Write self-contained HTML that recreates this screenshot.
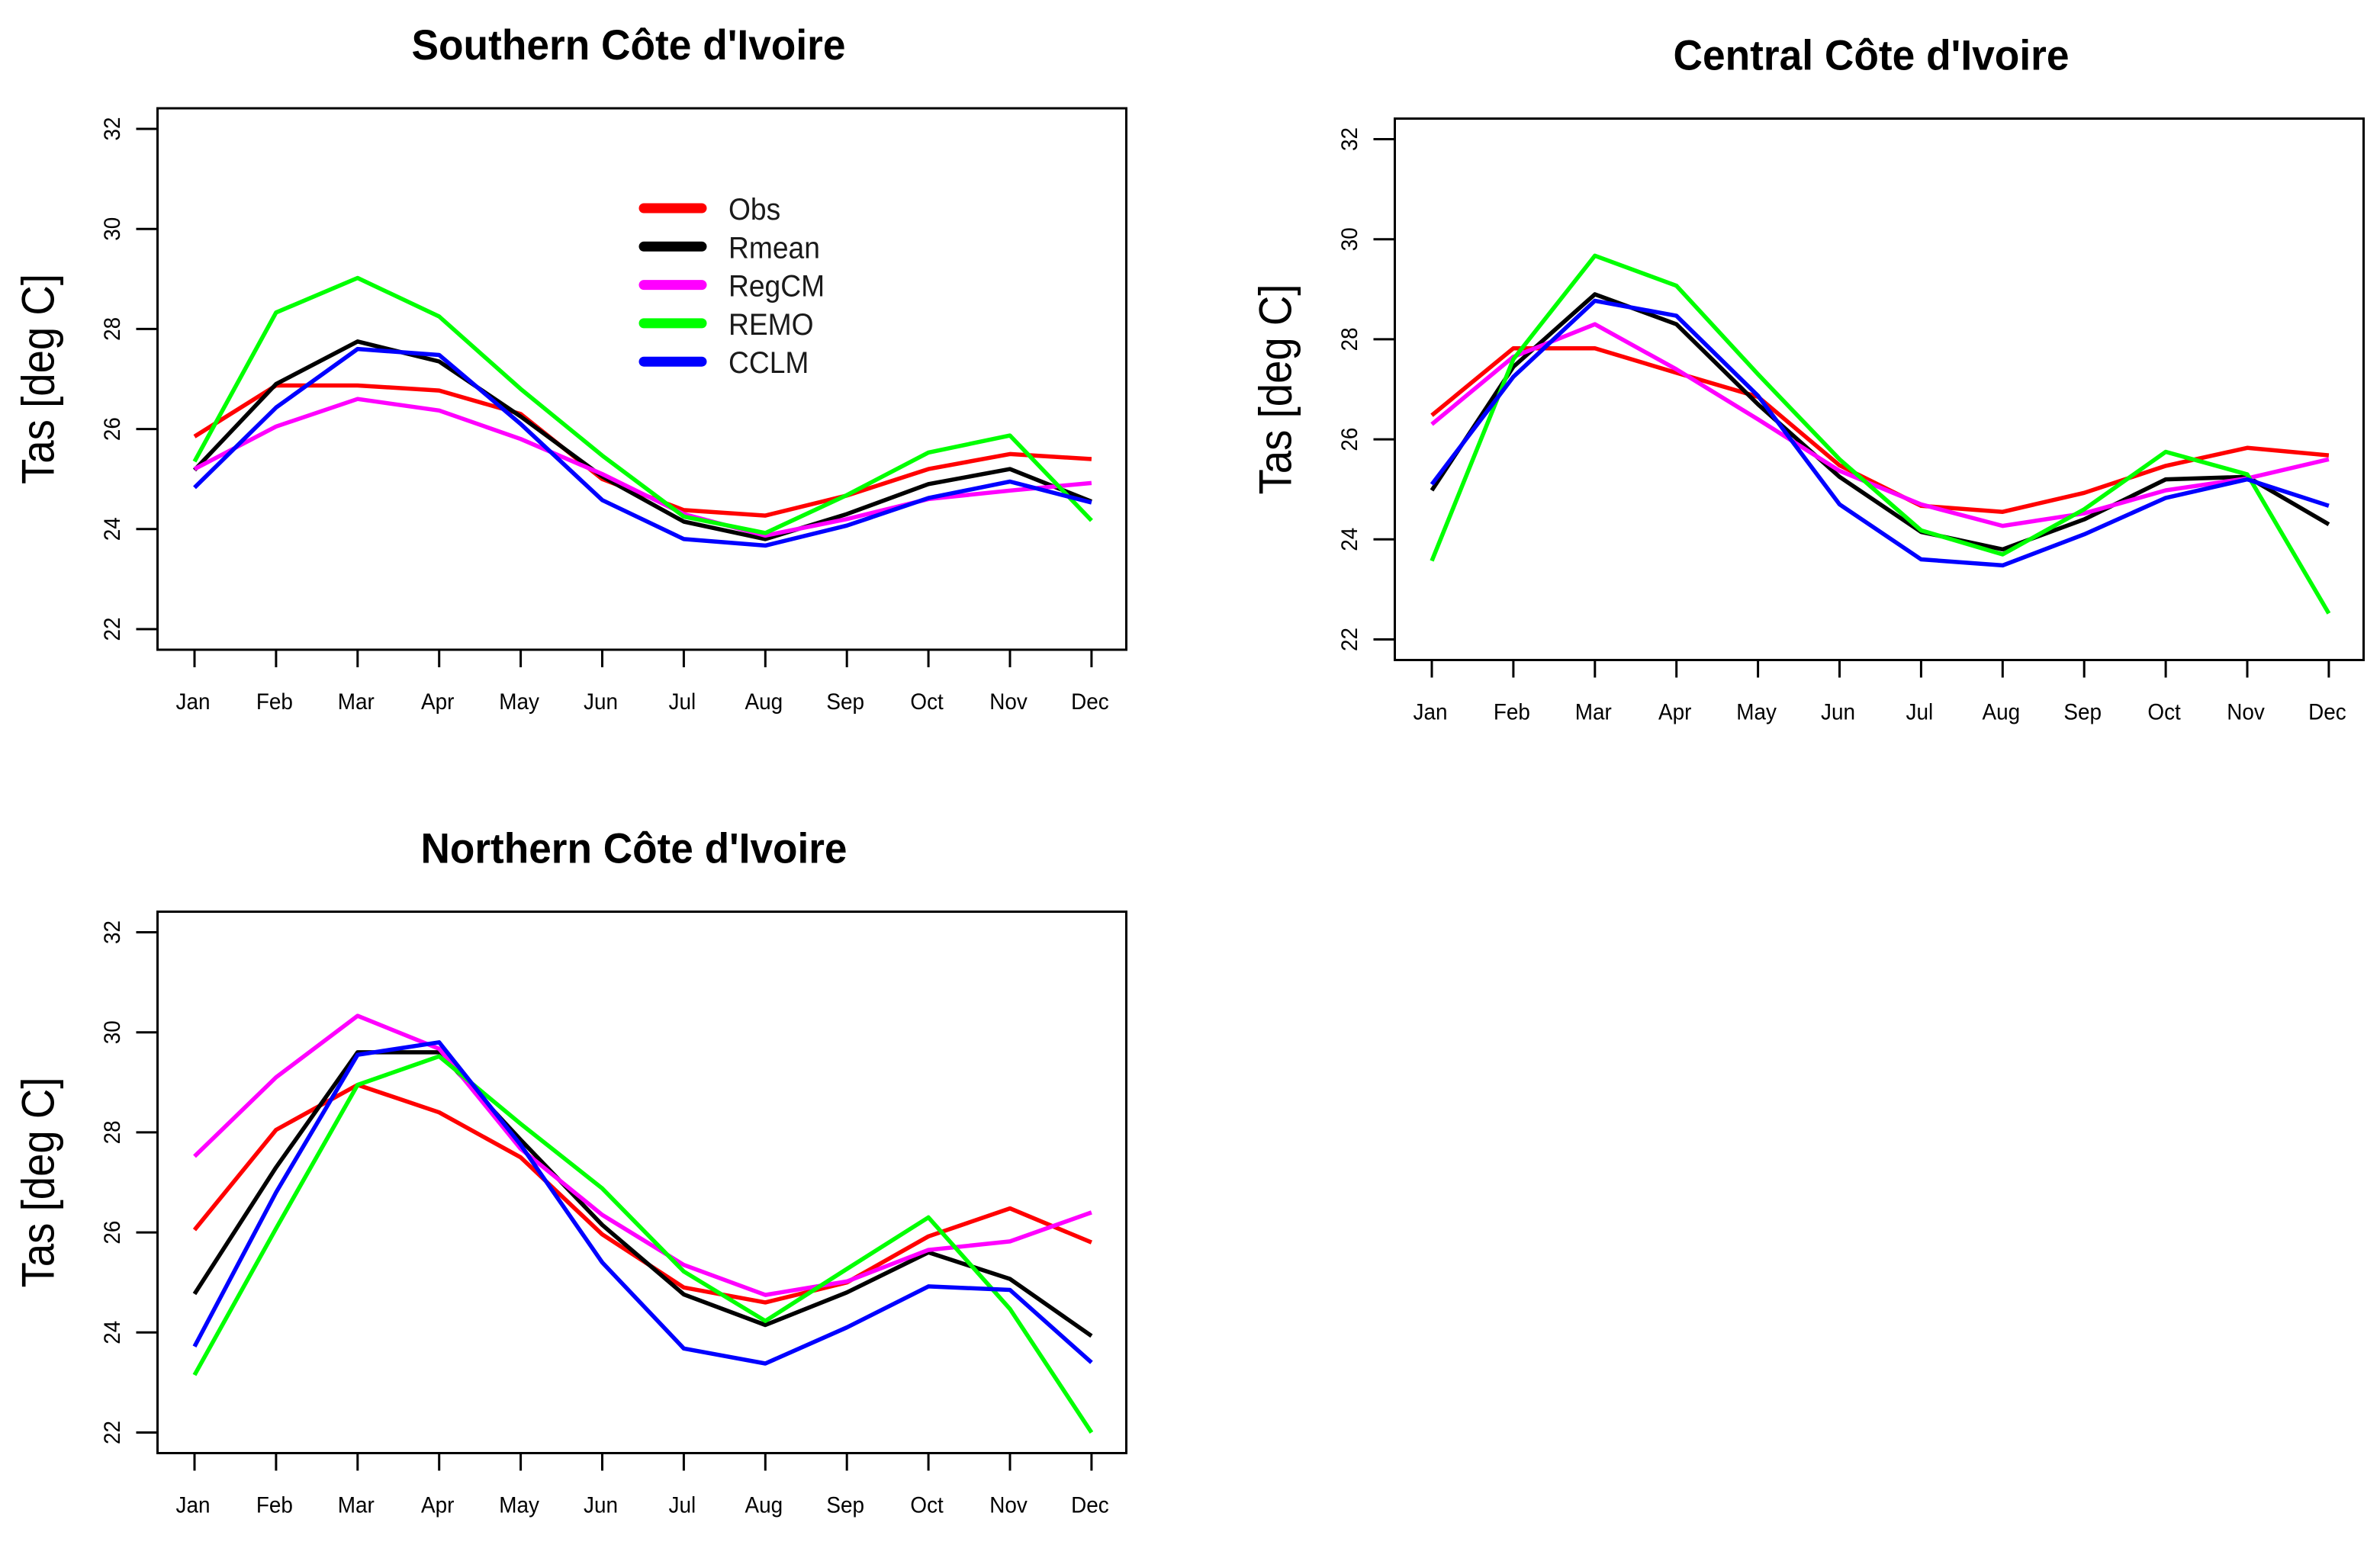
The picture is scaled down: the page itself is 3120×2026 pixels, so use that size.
<!DOCTYPE html>
<html lang="en">
<head>
<meta charset="utf-8">
<title>Tas by region, Côte d'Ivoire</title>
<style>
html,body{margin:0;padding:0;background:#fff;}
svg{display:block;font-family:"Liberation Sans",Arial,sans-serif;}
</style>
</head>
<body>
<svg id="figure" xmlns="http://www.w3.org/2000/svg" width="3120" height="2026" viewBox="0 0 3120 2026">
<rect x="0" y="0" width="3120" height="2026" fill="#ffffff"/>
</svg>
<script>
const months = ['Jan','Feb','Mar','Apr','May','Jun','Jul','Aug','Sep','Oct','Nov','Dec'];
const yTickValues = [22,24,26,28,30,32];
const seriesNames = ['Obs','Rmean','RegCM','REMO','CCLM'];
const seriesColors = ['#ff0000','#000000','#ff00ff','#00ff00','#0000ff'];

const southObs   = [25.85,26.87,26.87,26.77,26.30,25.00,24.38,24.27,24.67,25.20,25.50,25.40];
const southRmean = [25.18,26.90,27.75,27.35,26.25,25.05,24.15,23.80,24.30,24.90,25.20,24.55];
const southRegcm = [25.20,26.05,26.60,26.37,25.80,25.10,24.30,23.87,24.20,24.60,24.77,24.92];
const southRemo  = [25.35,28.33,29.02,28.25,26.80,25.47,24.25,23.92,24.68,25.53,25.87,24.17];
const southCclm  = [24.83,26.43,27.60,27.48,26.10,24.58,23.80,23.67,24.07,24.62,24.95,24.53];

const centralObs   = [26.48,27.82,27.82,27.33,26.85,25.48,24.67,24.55,24.93,25.47,25.83,25.68];
const centralRmean = [24.98,27.45,28.90,28.30,26.70,25.25,24.15,23.80,24.40,25.20,25.25,24.30];
const centralRegcm = [26.30,27.65,28.30,27.40,26.40,25.37,24.70,24.27,24.52,24.98,25.22,25.60];
const centralRemo  = [23.57,27.60,29.67,29.07,27.30,25.60,24.18,23.70,24.60,25.75,25.30,22.52];
const centralCclm  = [25.10,27.25,28.77,28.47,26.87,24.70,23.60,23.48,24.10,24.83,25.20,24.67];

const northObs   = [26.05,28.05,28.95,28.40,27.50,25.96,24.90,24.60,25.00,25.92,26.48,25.80];
const northRmean = [24.77,27.30,29.60,29.60,27.85,26.15,24.76,24.15,24.80,25.60,25.07,23.93];
const northRegcm = [27.52,29.10,30.33,29.67,27.67,26.35,25.35,24.75,25.02,25.65,25.82,26.40];
const northRemo  = [23.15,26.08,28.95,29.52,28.17,26.88,25.22,24.23,25.27,26.30,24.47,22.00];
const northCclm  = [23.72,26.80,29.55,29.80,27.75,25.40,23.68,23.38,24.10,24.92,24.85,23.40];

const svgNS = 'http://www.w3.org/2000/svg';
const figure = document.getElementById('figure');

function make(parent, tag, attrs, text) {
  const el = document.createElementNS(svgNS, tag);
  for (const k in attrs) el.setAttribute(k, attrs[k]);
  if (text !== undefined) el.textContent = text;
  parent.appendChild(el);
  return el;
}

function condense(el) {
  el.setAttribute('textLength', (el.getComputedTextLength() * 0.93).toFixed(1));
  el.setAttribute('lengthAdjust', 'spacingAndGlyphs');
}

function drawPanel(key, title, titleCenter, titleWidth, left, top, seriesValues, withLegend) {
  const plotWidth = 1270, plotHeight = 710;
  const right = left + plotWidth, bottom = top + plotHeight;
  const firstTickX = left + 48.5, monthStep = 106.9;
  const y22 = top + 683, pxPerDegree = 65.6;
  const xScale = function (i) { return firstTickX + i * monthStep; };
  const yScale = function (v) { return y22 - (v - 22) * pxPerDegree; };
  const centerY = top + plotHeight / 2;

  const g = make(figure, 'g', {});
  
  

  const titleEl = make(g, 'text', {
    x: titleCenter, y: top - 64, 'text-anchor': 'middle',
    'font-size': 56, 'font-weight': 'bold', fill: '#000',
    textLength: titleWidth, lengthAdjust: 'spacingAndGlyphs'
  }, title);
  
  

  const yTitleX = left - 136;
  const yTitle = make(g, 'text', {
    x: yTitleX, y: centerY, transform: 'rotate(-90 ' + yTitleX + ' ' + centerY + ')',
    'text-anchor': 'middle', 'font-size': 60, fill: '#000',
    textLength: 276, lengthAdjust: 'spacingAndGlyphs'
  }, 'Tas [deg C]');
  
  

  yTickValues.forEach(function (v) {
    const tick = make(g, 'line', { x1: left - 28, x2: left, y1: yScale(v), y2: yScale(v), stroke: '#000', 'stroke-width': 3 });
    
    
    const lx = left - 49.5, ly = yScale(v);
    const label = make(g, 'text', {
      x: lx, y: ly, transform: 'rotate(-90 ' + lx + ' ' + ly + ')',
      'text-anchor': 'middle', 'font-size': 30, fill: '#000'
    }, String(v));
    
    
    condense(label);
  });

  months.forEach(function (m, i) {
    const tick = make(g, 'line', { x1: xScale(i), x2: xScale(i), y1: bottom, y2: bottom + 23, stroke: '#000', 'stroke-width': 3 });
    
    
    const label = make(g, 'text', {
      x: xScale(i) - 2, y: bottom + 78, 'text-anchor': 'middle', 'font-size': 30, fill: '#000'
    }, m);
    
    
    condense(label);
  });

  seriesValues.forEach(function (vals, s) {
    const pts = vals.map(function (v, i) { return xScale(i).toFixed(1) + ',' + yScale(v).toFixed(1); }).join(' ');
    const line = make(g, 'polyline', {
      points: pts, fill: 'none', stroke: seriesColors[s], 'stroke-width': 5.5,
      'stroke-linejoin': 'round', 'stroke-linecap': 'butt'
    });
    
    
  });

  const box = make(g, 'rect', { x: left, y: top, width: plotWidth, height: plotHeight, fill: 'none', stroke: '#000', 'stroke-width': 3 });
  
  

  if (withLegend) {
    const legend = make(g, 'g', {});
    
    
    seriesNames.forEach(function (name, s) {
      const rowY = top + 131 + s * 50.3;
      const swatch = make(legend, 'line', {
        x1: 844, x2: 920, y1: rowY, y2: rowY, stroke: seriesColors[s],
        'stroke-width': 13, 'stroke-linecap': 'round'
      });
      
      
      const label = make(legend, 'text', { x: 955, y: rowY + 15, 'font-size': 40, fill: '#1a1a1a' }, name);
      
      
      condense(label);
    });
  }
}

drawPanel('southern', "Southern Côte d'Ivoire", 824, 569, 206.5, 142, [southObs, southRmean, southRegcm, southRemo, southCclm], true);
drawPanel('central', "Central Côte d'Ivoire", 2453, 519, 1828.5, 155.5, [centralObs, centralRmean, centralRegcm, centralRemo, centralCclm], false);
drawPanel('northern', "Northern Côte d'Ivoire", 831, 559, 206.5, 1195.5, [northObs, northRmean, northRegcm, northRemo, northCclm], false);
</script>
</body>
</html>
